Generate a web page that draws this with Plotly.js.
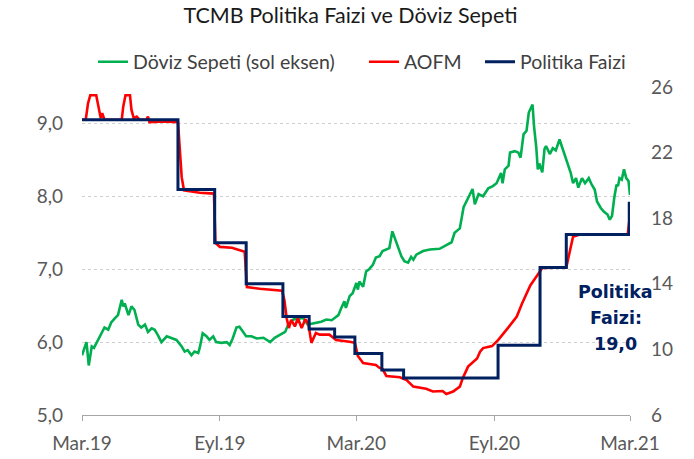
<!DOCTYPE html>
<html>
<head>
<meta charset="utf-8">
<script src="https://cdn.plot.ly/plotly-3.0.1.min.js"></script>
<style>
html,body{margin:0;padding:0;background:#fff;}
#chart{width:694px;height:459px;}
</style>
</head>
<body>
<div id="chart"></div>
<script>
// Döviz Sepeti (left axis)
var basketDates = ['2019-03-19','2019-03-25','2019-03-28','2019-04-01','2019-04-04','2019-04-07','2019-04-12','2019-04-16','2019-04-18','2019-04-23','2019-04-27','2019-05-02','2019-05-06','2019-05-11','2019-05-13','2019-05-15','2019-05-20','2019-05-24','2019-05-28','2019-06-02','2019-06-06','2019-06-11','2019-06-15','2019-06-20','2019-06-24','2019-06-28','2019-07-03','2019-07-10','2019-07-16','2019-07-23','2019-07-30','2019-08-03','2019-08-07','2019-08-12','2019-08-16','2019-08-21','2019-08-23','2019-08-27','2019-09-01','2019-09-05','2019-09-10','2019-09-14','2019-09-21','2019-09-28','2019-10-02','2019-10-06','2019-10-11','2019-10-15','2019-10-20','2019-10-24','2019-10-31','2019-11-07','2019-11-16','2019-11-25','2019-12-01','2019-12-08','2019-12-15','2019-12-19','2019-12-26','2020-01-01','2020-01-08','2020-01-14','2020-01-19','2020-01-26','2020-02-01','2020-02-08','2020-02-15','2020-02-19','2020-02-24','2020-02-28','2020-03-03','2020-03-05','2020-03-10','2020-03-14','2020-03-19','2020-03-21','2020-03-23','2020-03-28','2020-04-01','2020-04-05','2020-04-10','2020-04-14','2020-04-19','2020-04-23','2020-04-28','2020-05-02','2020-05-06','2020-05-13','2020-05-18','2020-05-22','2020-05-27','2020-05-31','2020-06-03','2020-06-07','2020-06-11','2020-06-16','2020-06-25','2020-07-08','2020-07-17','2020-07-24','2020-07-28','2020-08-04','2020-08-09','2020-08-13','2020-08-18','2020-08-21','2020-08-24','2020-08-29','2020-09-04','2020-09-11','2020-09-17','2020-09-22','2020-09-28','2020-09-30','2020-10-03','2020-10-08','2020-10-10','2020-10-16','2020-10-21','2020-10-24','2020-10-28','2020-11-01','2020-11-04','2020-11-07','2020-11-09','2020-11-11','2020-11-14','2020-11-16','2020-11-18','2020-11-22','2020-11-25','2020-11-27','2020-12-02','2020-12-06','2020-12-10','2020-12-15','2020-12-20','2020-12-26','2020-12-30','2021-01-02','2021-01-06','2021-01-09','2021-01-14','2021-01-18','2021-01-23','2021-01-27','2021-01-31','2021-02-03','2021-02-08','2021-02-12','2021-02-17','2021-02-20','2021-02-23','2021-02-26','2021-03-01','2021-03-03','2021-03-05','2021-03-08','2021-03-11','2021-03-14','2021-03-17','2021-03-19'];
var basketValues = [5.82,6.00,5.68,5.94,5.92,5.98,6.06,6.15,6.20,6.17,6.27,6.33,6.37,6.58,6.49,6.53,6.37,6.49,6.44,6.24,6.20,6.24,6.14,6.19,6.17,6.10,6.00,6.08,6.06,6.03,5.94,5.87,5.89,5.82,5.87,5.85,5.92,6.12,6.08,6.03,6.08,6.00,5.99,6.00,5.96,6.05,6.20,6.21,6.14,6.08,6.08,6.05,6.06,6.00,6.06,6.10,6.14,6.24,6.31,6.32,6.33,6.24,6.25,6.26,6.28,6.31,6.30,6.33,6.37,6.47,6.56,6.47,6.63,6.67,6.81,6.72,6.83,6.76,6.97,7.00,7.06,7.16,7.18,7.25,7.27,7.29,7.52,7.32,7.18,7.11,7.09,7.17,7.13,7.20,7.22,7.25,7.27,7.28,7.33,7.37,7.50,7.56,7.85,7.94,8.03,8.10,7.89,8.03,8.00,8.11,8.14,8.18,8.32,8.18,8.37,8.42,8.60,8.62,8.60,8.53,8.85,8.90,9.15,9.22,9.26,8.96,8.67,8.37,8.45,8.33,8.65,8.69,8.58,8.66,8.63,8.78,8.62,8.44,8.32,8.18,8.25,8.12,8.25,8.18,8.25,8.16,8.09,7.93,7.84,7.79,7.75,7.68,7.73,7.98,8.16,8.14,8.25,8.23,8.37,8.25,8.21,8.02];

// AOFM (right axis)
var aofmDates = ['2019-03-19','2019-03-24','2019-03-27','2019-03-30','2019-04-07','2019-04-10','2019-04-13','2019-04-15','2019-04-18','2019-05-11','2019-05-13','2019-05-16','2019-05-22','2019-05-24','2019-05-27','2019-05-31','2019-06-04','2019-06-13','2019-06-15','2019-06-17','2019-07-07','2019-07-25','2019-07-28','2019-07-30','2019-08-02','2019-08-23','2019-09-11','2019-09-13','2019-09-19','2019-10-05','2019-10-22','2019-10-25','2019-11-11','2019-12-01','2019-12-11','2019-12-14','2019-12-17','2019-12-20','2019-12-23','2019-12-28','2020-01-01','2020-01-06','2020-01-11','2020-01-15','2020-01-19','2020-01-25','2020-01-30','2020-02-12','2020-02-21','2020-03-10','2020-03-17','2020-03-21','2020-03-28','2020-04-14','2020-04-19','2020-04-23','2020-04-28','2020-05-16','2020-05-25','2020-06-03','2020-06-20','2020-06-29','2020-07-12','2020-07-17','2020-07-26','2020-08-04','2020-08-08','2020-08-15','2020-08-27','2020-08-31','2020-09-04','2020-09-16','2020-09-24','2020-10-07','2020-10-19','2020-10-26','2020-11-06','2020-11-14','2020-11-22','2020-12-24','2020-12-29','2021-01-02','2021-01-11','2021-03-16','2021-03-18'];
var aofmValues = [24.0,24.0,25.0,25.5,25.5,24.8,24.1,24.4,24.0,24.0,24.8,25.5,25.5,24.6,24.1,24.2,24.0,24.0,24.2,23.85,23.9,23.85,21.5,20.5,19.7,19.55,19.5,16.5,16.25,16.2,15.95,13.8,13.7,13.65,13.58,13.0,11.9,11.3,11.8,11.4,11.9,11.3,11.85,11.55,10.4,11.0,10.9,10.9,10.57,10.47,10.4,9.6,9.17,9.05,8.87,8.8,8.38,8.3,8.13,7.73,7.6,7.43,7.46,7.28,7.43,7.73,8.26,8.95,9.45,9.86,10.08,10.2,10.57,11.3,12.0,12.8,13.9,14.43,14.96,15.0,16.0,16.87,17.0,17.0,17.8];

// Politika Faizi (right axis), step dates
var policyDates = ['2019-03-19','2019-07-25','2019-09-12','2019-10-24','2019-12-12','2020-01-16','2020-02-19','2020-03-17','2020-04-22','2020-05-21','2020-09-24','2020-11-19','2020-12-24','2021-03-18'];
var policyValues = [24,19.75,16.5,14,12,11.25,10.75,9.75,8.75,8.25,10.25,15,17,19];

var tickDates = ['2019-03-19','2019-09-19','2020-03-19','2020-09-19','2021-03-19'];
var tickLabels = ['Mar.19','Eyl.19','Mar.20','Eyl.20','Mar.21'];
var leftTicks = [5,6,7,8,9];
var rightTicks = [6,10,14,18,22,26];

var seriesNames = ['Döviz Sepeti (sol eksen)','AOFM','Politika Faizi'];
var noteLines = ['Politika','Faizi:','19,0'];

var tickFont = {family:'Lato, "Open Sans", sans-serif', size:19, color:'#595959'};
var legendFont = {family:'Lato, "Open Sans", sans-serif', size:19.5, color:'#404040'};

var traces = [
  {x:basketDates, y:basketValues, name:seriesNames[0], type:'scatter', mode:'lines',
   line:{color:'#00b050', width:2.6}, yaxis:'y', legend:'legend'},
  {x:aofmDates, y:aofmValues, name:seriesNames[1], type:'scatter', mode:'lines',
   line:{color:'#ff0000', width:2.6}, yaxis:'y2', legend:'legend2'},
  {x:policyDates, y:policyValues, name:seriesNames[2], type:'scatter', mode:'lines',
   line:{color:'#002060', width:3, shape:'hv'}, yaxis:'y2', legend:'legend3'}
];

var annotations = noteLines.map(function(t,i){
  return {xref:'paper', yref:'paper', x:0.974, y:0.375 - i*0.079, text:t, showarrow:false,
    xanchor:'center', yanchor:'middle',
    font:{family:'"DejaVu Sans", Verdana, sans-serif', size:17.5, color:'#002060', weight:'bold'}};
});

function legendAt(px){
  return {orientation:'h', x:(px-82)/548, xanchor:'left', y:1.076, yanchor:'middle',
    font:legendFont, bgcolor:'rgba(0,0,0,0)', borderwidth:0};
}

var layout = {
  width:694, height:459,
  margin:{l:82, r:64, t:87, b:44, pad:0},
  paper_bgcolor:'#ffffff', plot_bgcolor:'#ffffff',
  separators:',.',
  showlegend:true,
  title:{text:'TCMB Politika Faizi ve Döviz Sepeti', xref:'container', yref:'container',
    x:0.505, xanchor:'center', y:0.966, yanchor:'middle',
    font:{family:'Lato, sans-serif', size:21.5, color:'#1a1a1a'}},
  legend:legendAt(93),
  legend2:legendAt(364),
  legend3:legendAt(480),
  xaxis:{type:'date', range:['2019-03-19','2021-03-19'], tickmode:'array',
    tickvals:tickDates, ticktext:tickLabels, ticks:'outside', ticklen:5, tickwidth:1,
    tickcolor:'#a6a6a6', showline:true, linecolor:'#a6a6a6', linewidth:1.3,
    showgrid:false, zeroline:false, tickfont:tickFont, ticklabelstandoff:6},
  yaxis:{range:[5,9.5], tickmode:'array', tickvals:leftTicks, tickformat:'.1f',
    ticks:'', showline:false, zeroline:false, showgrid:true, gridcolor:'#d0d0d0',
    griddash:'dot', gridwidth:1, tickfont:tickFont, ticklabelstandoff:18},
  yaxis2:{range:[6,26], tickmode:'array', tickvals:rightTicks, overlaying:'y', side:'right',
    ticks:'', showline:false, zeroline:false, showgrid:false, tickfont:tickFont,
    ticklabelstandoff:20},
  annotations:annotations
};

Plotly.newPlot('chart', traces, layout, {displayModeBar:false, staticPlot:true});
</script>
</body>
</html>
